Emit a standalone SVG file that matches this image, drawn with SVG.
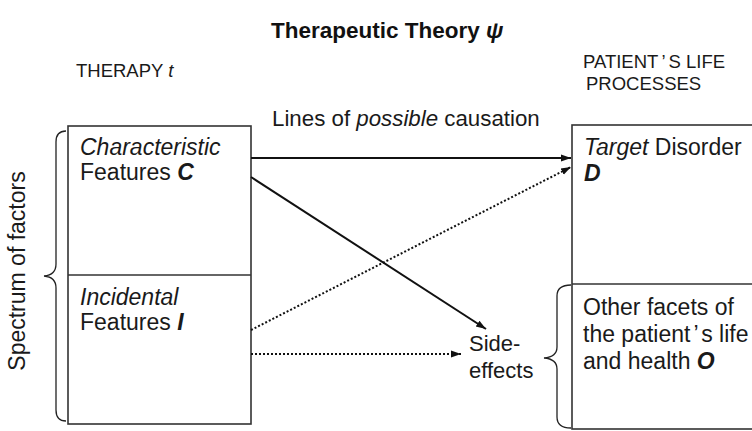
<svg xmlns="http://www.w3.org/2000/svg" width="752" height="431" viewBox="0 0 752 431">
<style>
text{font-family:"Liberation Sans",Arial,sans-serif;font-size:23px;fill:#1a1a1a}
.h{font-size:18.5px}
.t{font-size:22.5px;font-weight:bold;fill:#111}
.b{font-weight:bold}
.i{font-style:italic}
.box{fill:none;stroke:#333;stroke-width:1.6}
.sol{fill:none;stroke:#111;stroke-width:2}
.dot{fill:none;stroke:#111;stroke-width:2;stroke-dasharray:2 2}
.brace{fill:none;stroke:#222;stroke-width:1.3}
</style>
<defs>
<marker id="ah" viewBox="0 0 10 10" refX="10" refY="5" markerWidth="10" markerHeight="10" markerUnits="userSpaceOnUse" orient="auto">
<path d="M0,1.5 L10,5 L0,8.5 Z" fill="#111"/>
</marker>
</defs>
<g id="title"><text x="271" y="38" class="t">Therapeutic Theory <tspan class="i">ψ</tspan></text></g>
<g id="therapy-label"><text x="76" y="77" class="h">THERAPY <tspan class="i">t</tspan></text></g>
<g id="patient-label"><text x="583" y="68" class="h">PATIENT<tspan dx="3">’</tspan><tspan dx="3">S LIFE</tspan></text><text x="586" y="90" class="h">PROCESSES</text></g>
<g id="causation-label"><text x="272" y="126" style="font-size:22.3px">Lines of <tspan class="i">possible</tspan> causation</text></g>
<g id="therapy-box">
<rect class="box" x="68" y="126" width="183" height="298"/>
<line class="box" x1="68" y1="275" x2="251" y2="275"/>
</g>
<g id="node-C"><text x="80" y="155" class="i">Characteristic</text><text x="80" y="180">Features <tspan class="b i">C</tspan></text></g>
<g id="node-I"><text x="80" y="305" class="i">Incidental</text><text x="80" y="330">Features <tspan class="b i">I</tspan></text></g>
<g id="patient-box">
<rect class="box" x="572" y="125" width="200" height="304"/>
<line class="box" x1="572" y1="284" x2="752" y2="284"/>
</g>
<g id="node-D"><text x="584" y="155"><tspan class="i">Target</tspan> Disorder</text><text x="584" y="181" class="b i">D</text></g>
<g id="node-O"><text x="583" y="315">Other facets of</text><text x="583" y="342">the patient<tspan dx="3">’</tspan><tspan dx="3">s life</tspan></text><text x="583" y="369">and health <tspan class="b i">O</tspan></text></g>
<g id="node-side-effects"><text x="469" y="351" style="font-size:22px">Side-</text><text x="469" y="378" style="font-size:22px">effects</text></g>
<g id="spectrum-label"><text transform="translate(25,271) rotate(-90)" text-anchor="middle">Spectrum of factors</text></g>
<g id="braces">
<path class="brace" d="M66,131 Q56,131 56,142 L56,264 Q56,275 44,276 Q56,277 56,288 L56,410 Q56,421 66,421"/>
<path class="brace" d="M571,285 Q557,285 557,296 L557,347 Q557,357 544,358 Q557,359 557,369 L557,417 Q557,428 571,428"/>
</g>
<g id="connectors">
<line class="sol" x1="251" y1="158" x2="571" y2="158" marker-end="url(#ah)"/>
<line class="sol" x1="251" y1="177" x2="486" y2="329" marker-end="url(#ah)"/>
<line class="dot" x1="251" y1="330" x2="571" y2="167" marker-end="url(#ah)"/>
<line class="dot" x1="251" y1="354" x2="461" y2="354" marker-end="url(#ah)"/>
</g>
</svg>
